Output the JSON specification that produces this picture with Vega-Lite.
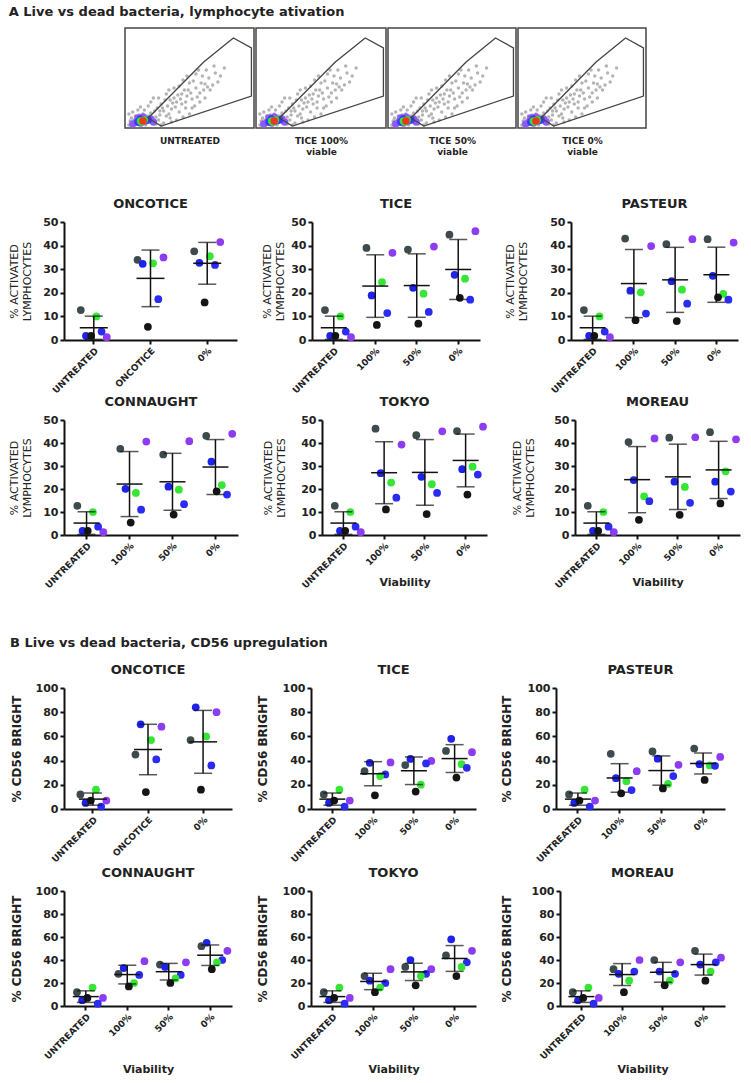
{
"$schema": "https://vega.github.io/schema/vega-lite/v6.json",
"padding": {"left": 8, "top": 6, "right": 5, "bottom": 3},
"background": "white",
"config": {
  "font": "DejaVu Sans",
  "view": {"stroke": null},
  "axis": {"labelFont": "DejaVu Sans", "labelFontWeight": "bold", "labelColor": "#222", "domainColor": "#111", "domainWidth": 2, "tickColor": "#111", "tickWidth": 2, "tickSize": 4, "grid": false, "titleFont": "DejaVu Sans", "titleFontWeight": "normal", "titleFontSize": 11, "titleColor": "#222"},
  "axisX": {"labelFontSize": 9},
  "axisY": {"labelFontSize": 11},
  "title": {"font": "DejaVu Sans", "fontSize": 13, "fontWeight": "bold", "color": "#222", "offset": 5}
},
"datasets": {
  "cloud": [
    {"x":3,"y":3},{"x":6,"y":5},{"x":9,"y":4},{"x":12,"y":7},{"x":15,"y":5},{"x":18,"y":9},{"x":21,"y":6},{"x":24,"y":11},{"x":8,"y":12},{"x":14,"y":14},{"x":20,"y":15},{"x":27,"y":13},{"x":30,"y":17},{"x":25,"y":20},{"x":33,"y":22},{"x":36,"y":19},{"x":40,"y":26},{"x":44,"y":24},{"x":38,"y":30},{"x":48,"y":32},{"x":52,"y":29},{"x":46,"y":38},{"x":55,"y":40},{"x":58,"y":35},{"x":62,"y":44},{"x":50,"y":45},{"x":65,"y":50},{"x":70,"y":55},{"x":60,"y":52},{"x":42,"y":16},{"x":35,"y":10},{"x":28,"y":24},{"x":18,"y":22},{"x":10,"y":18},{"x":5,"y":10},{"x":32,"y":34},{"x":22,"y":30},{"x":54,"y":22},{"x":66,"y":38},{"x":72,"y":46},{"x":45,"y":48},{"x":57,"y":58},{"x":3,"y":14},{"x":16,"y":3},{"x":30,"y":5},{"x":40,"y":8},{"x":50,"y":14},{"x":26,"y":8},{"x":34,"y":14},{"x":44,"y":34},{"x":38,"y":40},{"x":62,"y":30},{"x":7,"y":8},{"x":11,"y":13},{"x":19,"y":12},{"x":23,"y":17},{"x":29,"y":20},{"x":37,"y":25},{"x":41,"y":33},{"x":49,"y":38},{"x":53,"y":47},{"x":61,"y":38},{"x":68,"y":43},{"x":47,"y":20},{"x":31,"y":28},{"x":15,"y":18},
    {"x":4,"y":7},{"x":9,"y":9},{"x":13,"y":3},{"x":17,"y":12},{"x":21,"y":10},{"x":24,"y":4},{"x":27,"y":17},{"x":32,"y":12},{"x":35,"y":28},{"x":39,"y":21},{"x":43,"y":29},{"x":47,"y":26},{"x":51,"y":35},{"x":56,"y":31},{"x":59,"y":45},{"x":64,"y":41},{"x":6,"y":16},{"x":12,"y":21},{"x":20,"y":26},{"x":26,"y":30},{"x":34,"y":38},{"x":42,"y":42},{"x":48,"y":52},{"x":55,"y":54},{"x":63,"y":58},{"x":69,"y":62},{"x":74,"y":52},{"x":77,"y":60},{"x":58,"y":26},{"x":52,"y":20},{"x":45,"y":11},{"x":36,"y":6},{"x":28,"y":3}
  ],
  "gate": [
    {"x":18,"y":10,"o":1},{"x":61,"y":66,"o":2},{"x":84,"y":90,"o":3},{"x":98,"y":80,"o":4},{"x":98,"y":32,"o":5},{"x":28,"y":2,"o":6},{"x":18,"y":10,"o":7}
  ],
  "hot": [
    {"x":6,"y":4,"l":"a"},{"x":9,"y":6,"l":"a"},{"x":12,"y":5,"l":"a"},{"x":16,"y":7,"l":"a"},{"x":20,"y":9,"l":"a"},{"x":10,"y":10,"l":"a"},{"x":14,"y":11,"l":"a"},{"x":22,"y":6,"l":"a"},
    {"x":10,"y":6,"l":"b"},{"x":14,"y":7,"l":"b"},{"x":18,"y":8,"l":"b"},{"x":12,"y":9,"l":"b"},
    {"x":12,"y":7,"l":"c"},{"x":15,"y":8,"l":"c"},{"x":13,"y":6,"l":"c"},
    {"x":14,"y":7,"l":"d"}
  ],
  "a": [
    {"p":"ALL","c":"UNTREATED","d":"d1","v":12.7},{"p":"ALL","c":"UNTREATED","d":"gr","v":10},{"p":"ALL","c":"UNTREATED","d":"b1","v":1.8},{"p":"ALL","c":"UNTREATED","d":"pu","v":1.2},{"p":"ALL","c":"UNTREATED","d":"d2","v":1.8},{"p":"ALL","c":"UNTREATED","d":"b2","v":3.6},
    {"p":"ONCOTICE","c":"ONCOTICE","d":"d1","v":34},{"p":"ONCOTICE","c":"ONCOTICE","d":"b1","v":32.3},{"p":"ONCOTICE","c":"ONCOTICE","d":"gr","v":32.5},{"p":"ONCOTICE","c":"ONCOTICE","d":"pu","v":35},{"p":"ONCOTICE","c":"ONCOTICE","d":"b2","v":17.3},{"p":"ONCOTICE","c":"ONCOTICE","d":"d2","v":5.6},
    {"p":"ONCOTICE","c":"0%","d":"d1","v":37.6},{"p":"ONCOTICE","c":"0%","d":"pu","v":41.5},{"p":"ONCOTICE","c":"0%","d":"b1","v":32.7},{"p":"ONCOTICE","c":"0%","d":"b2","v":31.8},{"p":"ONCOTICE","c":"0%","d":"gr","v":35.5},{"p":"ONCOTICE","c":"0%","d":"d2","v":15.9},
    {"p":"TICE","c":"100%","d":"pu","v":36.9},{"p":"TICE","c":"100%","d":"d1","v":39},{"p":"TICE","c":"100%","d":"gr","v":24.5},{"p":"TICE","c":"100%","d":"b1","v":18.9},{"p":"TICE","c":"100%","d":"b2","v":11.4},{"p":"TICE","c":"100%","d":"d2","v":6.4},
    {"p":"TICE","c":"50%","d":"d1","v":38.3},{"p":"TICE","c":"50%","d":"pu","v":39.6},{"p":"TICE","c":"50%","d":"b1","v":22.1},{"p":"TICE","c":"50%","d":"gr","v":19.6},{"p":"TICE","c":"50%","d":"b2","v":11.9},{"p":"TICE","c":"50%","d":"d2","v":6.9},
    {"p":"TICE","c":"0%","d":"d1","v":44.6},{"p":"TICE","c":"0%","d":"pu","v":46.1},{"p":"TICE","c":"0%","d":"b1","v":27.6},{"p":"TICE","c":"0%","d":"gr","v":26},{"p":"TICE","c":"0%","d":"b2","v":17.1},{"p":"TICE","c":"0%","d":"d2","v":17.9},
    {"p":"PASTEUR","c":"100%","d":"pu","v":39.8},{"p":"PASTEUR","c":"100%","d":"d1","v":43},{"p":"PASTEUR","c":"100%","d":"b1","v":20.9},{"p":"PASTEUR","c":"100%","d":"gr","v":20.2},{"p":"PASTEUR","c":"100%","d":"b2","v":11.2},{"p":"PASTEUR","c":"100%","d":"d2","v":8.4},
    {"p":"PASTEUR","c":"50%","d":"pu","v":42.7},{"p":"PASTEUR","c":"50%","d":"d1","v":40.6},{"p":"PASTEUR","c":"50%","d":"b1","v":24.9},{"p":"PASTEUR","c":"50%","d":"gr","v":21.3},{"p":"PASTEUR","c":"50%","d":"b2","v":15.4},{"p":"PASTEUR","c":"50%","d":"d2","v":8},
    {"p":"PASTEUR","c":"0%","d":"pu","v":41.3},{"p":"PASTEUR","c":"0%","d":"d1","v":42.7},{"p":"PASTEUR","c":"0%","d":"b1","v":27.2},{"p":"PASTEUR","c":"0%","d":"gr","v":19.5},{"p":"PASTEUR","c":"0%","d":"b2","v":17.1},{"p":"PASTEUR","c":"0%","d":"d2","v":18.1},
    {"p":"CONNAUGHT","c":"100%","d":"pu","v":40.6},{"p":"CONNAUGHT","c":"100%","d":"d1","v":37.5},{"p":"CONNAUGHT","c":"100%","d":"b1","v":20.1},{"p":"CONNAUGHT","c":"100%","d":"gr","v":18.3},{"p":"CONNAUGHT","c":"100%","d":"b2","v":11},{"p":"CONNAUGHT","c":"100%","d":"d2","v":5.4},
    {"p":"CONNAUGHT","c":"50%","d":"pu","v":40.8},{"p":"CONNAUGHT","c":"50%","d":"d1","v":35},{"p":"CONNAUGHT","c":"50%","d":"b1","v":21},{"p":"CONNAUGHT","c":"50%","d":"gr","v":19.7},{"p":"CONNAUGHT","c":"50%","d":"b2","v":13.4},{"p":"CONNAUGHT","c":"50%","d":"d2","v":8.9},
    {"p":"CONNAUGHT","c":"0%","d":"d1","v":43.1},{"p":"CONNAUGHT","c":"0%","d":"pu","v":44},{"p":"CONNAUGHT","c":"0%","d":"b1","v":31.9},{"p":"CONNAUGHT","c":"0%","d":"gr","v":21.7},{"p":"CONNAUGHT","c":"0%","d":"b2","v":17.6},{"p":"CONNAUGHT","c":"0%","d":"d2","v":19},
    {"p":"TOKYO","c":"100%","d":"d1","v":46.2},{"p":"TOKYO","c":"100%","d":"pu","v":39.3},{"p":"TOKYO","c":"100%","d":"b1","v":26.9},{"p":"TOKYO","c":"100%","d":"gr","v":22.8},{"p":"TOKYO","c":"100%","d":"b2","v":16.2},{"p":"TOKYO","c":"100%","d":"d2","v":11.1},
    {"p":"TOKYO","c":"50%","d":"pu","v":45.1},{"p":"TOKYO","c":"50%","d":"d1","v":43.4},{"p":"TOKYO","c":"50%","d":"b1","v":25.3},{"p":"TOKYO","c":"50%","d":"gr","v":22.1},{"p":"TOKYO","c":"50%","d":"b2","v":18.3},{"p":"TOKYO","c":"50%","d":"d2","v":9.1},
    {"p":"TOKYO","c":"0%","d":"d1","v":45.2},{"p":"TOKYO","c":"0%","d":"pu","v":47.1},{"p":"TOKYO","c":"0%","d":"b1","v":28.6},{"p":"TOKYO","c":"0%","d":"gr","v":29.7},{"p":"TOKYO","c":"0%","d":"b2","v":26.3},{"p":"TOKYO","c":"0%","d":"d2","v":17.6},
    {"p":"MOREAU","c":"100%","d":"pu","v":42},{"p":"MOREAU","c":"100%","d":"d1","v":40.4},{"p":"MOREAU","c":"100%","d":"b1","v":23.9},{"p":"MOREAU","c":"100%","d":"gr","v":16.8},{"p":"MOREAU","c":"100%","d":"b2","v":14.7},{"p":"MOREAU","c":"100%","d":"d2","v":6.6},
    {"p":"MOREAU","c":"50%","d":"d1","v":42.3},{"p":"MOREAU","c":"50%","d":"pu","v":42.5},{"p":"MOREAU","c":"50%","d":"b1","v":23.2},{"p":"MOREAU","c":"50%","d":"gr","v":20.9},{"p":"MOREAU","c":"50%","d":"b2","v":14},{"p":"MOREAU","c":"50%","d":"d2","v":8.8},
    {"p":"MOREAU","c":"0%","d":"pu","v":41.6},{"p":"MOREAU","c":"0%","d":"d1","v":44.7},{"p":"MOREAU","c":"0%","d":"gr","v":27.7},{"p":"MOREAU","c":"0%","d":"b1","v":23.2},{"p":"MOREAU","c":"0%","d":"b2","v":18.9},{"p":"MOREAU","c":"0%","d":"d2","v":13.7}
  ],
  "b": [
    {"p":"ALL","c":"UNTREATED","d":"d1","v":12},{"p":"ALL","c":"UNTREATED","d":"gr","v":16},{"p":"ALL","c":"UNTREATED","d":"b1","v":5},{"p":"ALL","c":"UNTREATED","d":"pu","v":7},{"p":"ALL","c":"UNTREATED","d":"d2","v":7},{"p":"ALL","c":"UNTREATED","d":"b2","v":2},
    {"p":"ONCOTICE","c":"ONCOTICE","d":"b1","v":70},{"p":"ONCOTICE","c":"ONCOTICE","d":"pu","v":68},{"p":"ONCOTICE","c":"ONCOTICE","d":"gr","v":57},{"p":"ONCOTICE","c":"ONCOTICE","d":"d1","v":45},{"p":"ONCOTICE","c":"ONCOTICE","d":"b2","v":41},{"p":"ONCOTICE","c":"ONCOTICE","d":"d2","v":14},
    {"p":"ONCOTICE","c":"0%","d":"b1","v":84},{"p":"ONCOTICE","c":"0%","d":"pu","v":80},{"p":"ONCOTICE","c":"0%","d":"d1","v":57},{"p":"ONCOTICE","c":"0%","d":"gr","v":60},{"p":"ONCOTICE","c":"0%","d":"b2","v":36},{"p":"ONCOTICE","c":"0%","d":"d2","v":16},
    {"p":"TICE","c":"100%","d":"b1","v":38.2},{"p":"TICE","c":"100%","d":"pu","v":38.5},{"p":"TICE","c":"100%","d":"d1","v":31.2},{"p":"TICE","c":"100%","d":"b2","v":28.6},{"p":"TICE","c":"100%","d":"gr","v":27.2},{"p":"TICE","c":"100%","d":"d2","v":11.3},
    {"p":"TICE","c":"50%","d":"b1","v":41.4},{"p":"TICE","c":"50%","d":"pu","v":39.7},{"p":"TICE","c":"50%","d":"d1","v":36.3},{"p":"TICE","c":"50%","d":"b2","v":37.7},{"p":"TICE","c":"50%","d":"gr","v":20.1},{"p":"TICE","c":"50%","d":"d2","v":14.4},
    {"p":"TICE","c":"0%","d":"b1","v":58},{"p":"TICE","c":"0%","d":"d1","v":48},{"p":"TICE","c":"0%","d":"pu","v":47},{"p":"TICE","c":"0%","d":"gr","v":37},{"p":"TICE","c":"0%","d":"b2","v":34},{"p":"TICE","c":"0%","d":"d2","v":26},
    {"p":"PASTEUR","c":"100%","d":"d1","v":45.6},{"p":"PASTEUR","c":"100%","d":"pu","v":31.2},{"p":"PASTEUR","c":"100%","d":"b1","v":25.5},{"p":"PASTEUR","c":"100%","d":"gr","v":23},{"p":"PASTEUR","c":"100%","d":"b2","v":15.6},{"p":"PASTEUR","c":"100%","d":"d2","v":13},
    {"p":"PASTEUR","c":"50%","d":"d1","v":47.6},{"p":"PASTEUR","c":"50%","d":"b1","v":41.6},{"p":"PASTEUR","c":"50%","d":"pu","v":36.5},{"p":"PASTEUR","c":"50%","d":"b2","v":27.2},{"p":"PASTEUR","c":"50%","d":"gr","v":20.7},{"p":"PASTEUR","c":"50%","d":"d2","v":17},
    {"p":"PASTEUR","c":"0%","d":"d1","v":50},{"p":"PASTEUR","c":"0%","d":"pu","v":43},{"p":"PASTEUR","c":"0%","d":"b1","v":37},{"p":"PASTEUR","c":"0%","d":"gr","v":36},{"p":"PASTEUR","c":"0%","d":"b2","v":35.7},{"p":"PASTEUR","c":"0%","d":"d2","v":24},
    {"p":"CONNAUGHT","c":"100%","d":"pu","v":39},{"p":"CONNAUGHT","c":"100%","d":"b1","v":33},{"p":"CONNAUGHT","c":"100%","d":"d1","v":28},{"p":"CONNAUGHT","c":"100%","d":"b2","v":27},{"p":"CONNAUGHT","c":"100%","d":"gr","v":20},{"p":"CONNAUGHT","c":"100%","d":"d2","v":17},
    {"p":"CONNAUGHT","c":"50%","d":"pu","v":38},{"p":"CONNAUGHT","c":"50%","d":"d1","v":36},{"p":"CONNAUGHT","c":"50%","d":"b1","v":34},{"p":"CONNAUGHT","c":"50%","d":"b2","v":27},{"p":"CONNAUGHT","c":"50%","d":"gr","v":24},{"p":"CONNAUGHT","c":"50%","d":"d2","v":20},
    {"p":"CONNAUGHT","c":"0%","d":"b1","v":55},{"p":"CONNAUGHT","c":"0%","d":"d1","v":52},{"p":"CONNAUGHT","c":"0%","d":"pu","v":48},{"p":"CONNAUGHT","c":"0%","d":"b2","v":40},{"p":"CONNAUGHT","c":"0%","d":"gr","v":38},{"p":"CONNAUGHT","c":"0%","d":"d2","v":32},
    {"p":"TOKYO","c":"100%","d":"pu","v":32},{"p":"TOKYO","c":"100%","d":"d1","v":26},{"p":"TOKYO","c":"100%","d":"b1","v":22},{"p":"TOKYO","c":"100%","d":"b2","v":20},{"p":"TOKYO","c":"100%","d":"gr","v":16},{"p":"TOKYO","c":"100%","d":"d2","v":12},
    {"p":"TOKYO","c":"50%","d":"b1","v":40},{"p":"TOKYO","c":"50%","d":"d1","v":34},{"p":"TOKYO","c":"50%","d":"pu","v":32},{"p":"TOKYO","c":"50%","d":"b2","v":28},{"p":"TOKYO","c":"50%","d":"gr","v":26},{"p":"TOKYO","c":"50%","d":"d2","v":18},
    {"p":"TOKYO","c":"0%","d":"b1","v":58},{"p":"TOKYO","c":"0%","d":"pu","v":48},{"p":"TOKYO","c":"0%","d":"d1","v":44},{"p":"TOKYO","c":"0%","d":"b2","v":38},{"p":"TOKYO","c":"0%","d":"gr","v":34},{"p":"TOKYO","c":"0%","d":"d2","v":26},
    {"p":"MOREAU","c":"100%","d":"pu","v":40},{"p":"MOREAU","c":"100%","d":"d1","v":32},{"p":"MOREAU","c":"100%","d":"b2","v":30},{"p":"MOREAU","c":"100%","d":"b1","v":28},{"p":"MOREAU","c":"100%","d":"gr","v":22},{"p":"MOREAU","c":"100%","d":"d2","v":12},
    {"p":"MOREAU","c":"50%","d":"d1","v":40},{"p":"MOREAU","c":"50%","d":"pu","v":38},{"p":"MOREAU","c":"50%","d":"b1","v":30},{"p":"MOREAU","c":"50%","d":"b2","v":28},{"p":"MOREAU","c":"50%","d":"gr","v":22},{"p":"MOREAU","c":"50%","d":"d2","v":18},
    {"p":"MOREAU","c":"0%","d":"d1","v":48},{"p":"MOREAU","c":"0%","d":"pu","v":42},{"p":"MOREAU","c":"0%","d":"b2","v":38},{"p":"MOREAU","c":"0%","d":"b1","v":36},{"p":"MOREAU","c":"0%","d":"gr","v":30},{"p":"MOREAU","c":"0%","d":"d2","v":22}
  ],
  "sa": [
    {"p":"ONCOTICE","c":"ONCOTICE","s":"*"},{"p":"ONCOTICE","c":"0%","s":"**"},
    {"p":"TICE","c":"100%","s":"*"},{"p":"TICE","c":"50%","s":"*"},{"p":"TICE","c":"0%","s":"*"},
    {"p":"PASTEUR","c":"100%","s":"*"},{"p":"PASTEUR","c":"50%","s":"*"},{"p":"PASTEUR","c":"0%","s":"*"},
    {"p":"CONNAUGHT","c":"100%","s":"ns"},{"p":"CONNAUGHT","c":"50%","s":"*"},{"p":"CONNAUGHT","c":"0%","s":"*"},
    {"p":"TOKYO","c":"100%","s":"*"},{"p":"TOKYO","c":"50%","s":"*"},{"p":"TOKYO","c":"0%","s":"**"},
    {"p":"MOREAU","c":"100%","s":"ns"},{"p":"MOREAU","c":"50%","s":"*"},{"p":"MOREAU","c":"0%","s":"*"}
  ],
  "sb": [
    {"p":"ONCOTICE","c":"ONCOTICE","s":"**"},{"p":"ONCOTICE","c":"0%","s":"**"},
    {"p":"TICE","c":"100%","s":"*"},{"p":"TICE","c":"50%","s":"*"},{"p":"TICE","c":"0%","s":"**"},
    {"p":"PASTEUR","c":"100%","s":"*"},{"p":"PASTEUR","c":"50%","s":"*"},{"p":"PASTEUR","c":"0%","s":"**"},
    {"p":"CONNAUGHT","c":"100%","s":"*"},{"p":"CONNAUGHT","c":"50%","s":"*"},{"p":"CONNAUGHT","c":"0%","s":"**"},
    {"p":"TOKYO","c":"100%","s":"*"},{"p":"TOKYO","c":"50%","s":"*"},{"p":"TOKYO","c":"0%","s":"**"},
    {"p":"MOREAU","c":"100%","s":"*"},{"p":"MOREAU","c":"50%","s":"*"},{"p":"MOREAU","c":"0%","s":"**"}
  ]
},
"spacing": 47,
"vconcat": [
 {
  "title": {"text": "A  Live vs dead bacteria, lymphocyte ativation", "anchor": "start", "fontSize": 13, "offset": 8},
  "spacing": 1,
  "vconcat": [
   {"spacing": 0, "hconcat": [
     {"width": 60, "height": 169, "data": {"values": []}, "mark": "point"},
     {"width": 129, "height": 100, "view": {"stroke": "#444", "strokeWidth": 1.5},
      "layer": [
       {"data": {"name": "cloud"}, "mark": {"type": "point", "filled": true, "size": 12, "color": "#777", "opacity": 0.55},
        "encoding": {"x": {"field": "x", "type": "quantitative", "scale": {"domain": [0, 100], "nice": false}, "axis": {"labels": false, "ticks": false, "domain": false, "title": "UNTREATED", "titleFontSize": 9, "titleFontWeight": "bold", "titlePadding": 8}}, "y": {"field": "y", "type": "quantitative", "scale": {"domain": [0, 100], "nice": false}, "axis": null}}},
       {"data": {"name": "hot"}, "mark": {"type": "point", "filled": true, "size": 55, "opacity": 1, "strokeWidth": 0},
        "encoding": {"x": {"field": "x", "type": "quantitative"}, "y": {"field": "y", "type": "quantitative"}, "fill": {"field": "l", "type": "nominal", "scale": {"domain": ["a","b","c","d"], "range": ["#8a5cf5","#3a3af0","#38e038","#e83a1a"]}, "legend": null}}},
       {"data": {"name": "gate"}, "mark": {"type": "line", "color": "#444", "strokeWidth": 1.3},
        "encoding": {"x": {"field": "x", "type": "quantitative"}, "y": {"field": "y", "type": "quantitative"}, "order": {"field": "o"}}}
      ]},
     {"width": 130, "height": 100, "view": {"stroke": "#444", "strokeWidth": 1.5},
      "layer": [
       {"data": {"name": "cloud"}, "mark": {"type": "point", "filled": true, "size": 12, "color": "#777", "opacity": 0.55},
        "encoding": {"x": {"field": "x", "type": "quantitative", "scale": {"domain": [0, 100], "nice": false}, "axis": {"labels": false, "ticks": false, "domain": false, "title": ["TICE 100%", "viable"], "titleFontSize": 9, "titleFontWeight": "bold", "titlePadding": 8}}, "y": {"field": "y", "type": "quantitative", "scale": {"domain": [0, 100], "nice": false}, "axis": null}}},
       {"data": {"name": "hot"}, "mark": {"type": "point", "filled": true, "size": 55, "opacity": 1, "strokeWidth": 0},
        "encoding": {"x": {"field": "x", "type": "quantitative"}, "y": {"field": "y", "type": "quantitative"}, "fill": {"field": "l", "type": "nominal", "scale": {"domain": ["a","b","c","d"], "range": ["#8a5cf5","#3a3af0","#38e038","#e83a1a"]}, "legend": null}}},
       {"data": {"name": "gate"}, "mark": {"type": "line", "color": "#444", "strokeWidth": 1.3},
        "encoding": {"x": {"field": "x", "type": "quantitative"}, "y": {"field": "y", "type": "quantitative"}, "order": {"field": "o"}}}
      ]},
     {"width": 128, "height": 100, "view": {"stroke": "#444", "strokeWidth": 1.5},
      "layer": [
       {"data": {"name": "cloud"}, "mark": {"type": "point", "filled": true, "size": 12, "color": "#777", "opacity": 0.55},
        "encoding": {"x": {"field": "x", "type": "quantitative", "scale": {"domain": [0, 100], "nice": false}, "axis": {"labels": false, "ticks": false, "domain": false, "title": ["TICE 50%", "viable"], "titleFontSize": 9, "titleFontWeight": "bold", "titlePadding": 8}}, "y": {"field": "y", "type": "quantitative", "scale": {"domain": [0, 100], "nice": false}, "axis": null}}},
       {"data": {"name": "hot"}, "mark": {"type": "point", "filled": true, "size": 55, "opacity": 1, "strokeWidth": 0},
        "encoding": {"x": {"field": "x", "type": "quantitative"}, "y": {"field": "y", "type": "quantitative"}, "fill": {"field": "l", "type": "nominal", "scale": {"domain": ["a","b","c","d"], "range": ["#8a5cf5","#3a3af0","#38e038","#e83a1a"]}, "legend": null}}},
       {"data": {"name": "gate"}, "mark": {"type": "line", "color": "#444", "strokeWidth": 1.3},
        "encoding": {"x": {"field": "x", "type": "quantitative"}, "y": {"field": "y", "type": "quantitative"}, "order": {"field": "o"}}}
      ]},
     {"width": 128, "height": 100, "view": {"stroke": "#444", "strokeWidth": 1.5},
      "layer": [
       {"data": {"name": "cloud"}, "mark": {"type": "point", "filled": true, "size": 12, "color": "#777", "opacity": 0.55},
        "encoding": {"x": {"field": "x", "type": "quantitative", "scale": {"domain": [0, 100], "nice": false}, "axis": {"labels": false, "ticks": false, "domain": false, "title": ["TICE 0%", "viable"], "titleFontSize": 9, "titleFontWeight": "bold", "titlePadding": 8}}, "y": {"field": "y", "type": "quantitative", "scale": {"domain": [0, 100], "nice": false}, "axis": null}}},
       {"data": {"name": "hot"}, "mark": {"type": "point", "filled": true, "size": 55, "opacity": 1, "strokeWidth": 0},
        "encoding": {"x": {"field": "x", "type": "quantitative"}, "y": {"field": "y", "type": "quantitative"}, "fill": {"field": "l", "type": "nominal", "scale": {"domain": ["a","b","c","d"], "range": ["#8a5cf5","#3a3af0","#38e038","#e83a1a"]}, "legend": null}}},
       {"data": {"name": "gate"}, "mark": {"type": "line", "color": "#444", "strokeWidth": 1.3},
        "encoding": {"x": {"field": "x", "type": "quantitative"}, "y": {"field": "y", "type": "quantitative"}, "order": {"field": "o"}}}
      ]}
   ]},
   {"spacing": 24, "hconcat": [
     {"width": 173, "height": 118, "title": "ONCOTICE", "data": {"name": "a"}, "transform": [{"filter": "datum.p == 'ONCOTICE' || datum.p == 'ALL'"}],
      "encoding": {"x": {"field": "c", "type": "nominal", "title": null, "scale": {"domain": ["UNTREATED","ONCOTICE","0%"], "paddingInner": 0.45, "paddingOuter": 0.25}, "axis": {"labelAngle": -45}},
        "y": {"field": "v", "type": "quantitative", "title": ["% ACTIVATED", "LYMPHOCYTES"], "scale": {"domain": [0, 50], "nice": false}, "axis": {"values": [0,10,20,30,40,50], "titlePadding": 10}}},
      "layer": [
       {"mark": {"type": "point", "filled": true, "size": 60, "opacity": 1}, "encoding": {"xOffset": {"field": "d", "type": "nominal", "scale": {"domain": ["d1","b1","d2","gr","b2","pu"]}}, "color": {"field": "d", "type": "nominal", "scale": {"domain": ["d1","b1","d2","gr","b2","pu"], "range": ["#3d4b4f","#1f22e8","#151515","#35e635","#2b2bf2","#8c3cf2"]}, "legend": null}}},
       {"mark": {"type": "errorbar", "extent": "stdev", "ticks": true, "size": 18, "thickness": 1.5, "color": "#111"}},
       {"mark": {"type": "tick", "thickness": 1.5, "size": 28, "color": "#111"}, "encoding": {"y": {"aggregate": "mean", "field": "v", "type": "quantitative", "title": ["% ACTIVATED", "LYMPHOCYTES"], "axis": {"values": [0,10,20,30,40,50], "titlePadding": 10}}}},
       {"data": {"name": "sa"}, "transform": [{"filter": "datum.p == 'ONCOTICE'"}], "mark": {"type": "text", "fontSize": 11, "fontWeight": "bold", "color": "#222"}, "encoding": {"y": {"datum": 49, "type": "quantitative", "title": ["% ACTIVATED", "LYMPHOCYTES"], "axis": {"values": [0,10,20,30,40,50], "titlePadding": 10}}, "text": {"field": "s"}}}
      ]},
     {"width": 168, "height": 118, "title": "TICE", "data": {"name": "a"}, "transform": [{"filter": "datum.p == 'TICE' || datum.p == 'ALL'"}],
      "encoding": {"x": {"field": "c", "type": "nominal", "title": null, "scale": {"domain": ["UNTREATED","100%","50%","0%"], "paddingInner": 0.45, "paddingOuter": 0.25}, "axis": {"labelAngle": -45}},
        "y": {"field": "v", "type": "quantitative", "title": ["% ACTIVATED", "LYMPHOCYTES"], "scale": {"domain": [0, 50], "nice": false}, "axis": {"values": [0,10,20,30,40,50], "titlePadding": 5}}},
      "layer": [
       {"mark": {"type": "point", "filled": true, "size": 60, "opacity": 1}, "encoding": {"xOffset": {"field": "d", "type": "nominal", "scale": {"domain": ["d1","b1","d2","gr","b2","pu"]}}, "color": {"field": "d", "type": "nominal", "scale": {"domain": ["d1","b1","d2","gr","b2","pu"], "range": ["#3d4b4f","#1f22e8","#151515","#35e635","#2b2bf2","#8c3cf2"]}, "legend": null}}},
       {"mark": {"type": "errorbar", "extent": "stdev", "ticks": true, "size": 18, "thickness": 1.5, "color": "#111"}},
       {"mark": {"type": "tick", "thickness": 1.5, "size": 26, "color": "#111"}, "encoding": {"y": {"aggregate": "mean", "field": "v", "type": "quantitative", "title": ["% ACTIVATED", "LYMPHOCYTES"], "axis": {"values": [0,10,20,30,40,50], "titlePadding": 5}}}},
       {"data": {"name": "sa"}, "transform": [{"filter": "datum.p == 'TICE'"}], "mark": {"type": "text", "fontSize": 11, "fontWeight": "bold", "color": "#222"}, "encoding": {"y": {"datum": 49, "type": "quantitative", "title": ["% ACTIVATED", "LYMPHOCYTES"], "axis": {"values": [0,10,20,30,40,50], "titlePadding": 5}}, "text": {"field": "s"}}}
      ]},
     {"width": 167, "height": 118, "title": "PASTEUR", "data": {"name": "a"}, "transform": [{"filter": "datum.p == 'PASTEUR' || datum.p == 'ALL'"}],
      "encoding": {"x": {"field": "c", "type": "nominal", "title": null, "scale": {"domain": ["UNTREATED","100%","50%","0%"], "paddingInner": 0.45, "paddingOuter": 0.25}, "axis": {"labelAngle": -45}},
        "y": {"field": "v", "type": "quantitative", "title": ["% ACTIVATED", "LYMPHOCYTES"], "scale": {"domain": [0, 50], "nice": false}, "axis": {"values": [0,10,20,30,40,50], "titlePadding": 21}}},
      "layer": [
       {"mark": {"type": "point", "filled": true, "size": 60, "opacity": 1}, "encoding": {"xOffset": {"field": "d", "type": "nominal", "scale": {"domain": ["d1","b1","d2","gr","b2","pu"]}}, "color": {"field": "d", "type": "nominal", "scale": {"domain": ["d1","b1","d2","gr","b2","pu"], "range": ["#3d4b4f","#1f22e8","#151515","#35e635","#2b2bf2","#8c3cf2"]}, "legend": null}}},
       {"mark": {"type": "errorbar", "extent": "stdev", "ticks": true, "size": 18, "thickness": 1.5, "color": "#111"}},
       {"mark": {"type": "tick", "thickness": 1.5, "size": 26, "color": "#111"}, "encoding": {"y": {"aggregate": "mean", "field": "v", "type": "quantitative", "title": ["% ACTIVATED", "LYMPHOCYTES"], "axis": {"values": [0,10,20,30,40,50], "titlePadding": 21}}}},
       {"data": {"name": "sa"}, "transform": [{"filter": "datum.p == 'PASTEUR'"}], "mark": {"type": "text", "fontSize": 11, "fontWeight": "bold", "color": "#222"}, "encoding": {"y": {"datum": 49, "type": "quantitative", "title": ["% ACTIVATED", "LYMPHOCYTES"], "axis": {"values": [0,10,20,30,40,50], "titlePadding": 21}}, "text": {"field": "s"}}}
      ]}
   ]},
   {"spacing": 24, "hconcat": [
     {"width": 174, "height": 115, "title": "CONNAUGHT", "data": {"name": "a"}, "transform": [{"filter": "datum.p == 'CONNAUGHT' || datum.p == 'ALL'"}],
      "encoding": {"x": {"field": "c", "type": "nominal", "title": null, "scale": {"domain": ["UNTREATED","100%","50%","0%"], "paddingInner": 0.45, "paddingOuter": 0.25}, "axis": {"labelAngle": -45}},
        "y": {"field": "v", "type": "quantitative", "title": ["% ACTIVATED", "LYMPHOCYTES"], "scale": {"domain": [0, 50], "nice": false}, "axis": {"values": [0,10,20,30,40,50], "titlePadding": 10}}},
      "layer": [
       {"mark": {"type": "point", "filled": true, "size": 60, "opacity": 1}, "encoding": {"xOffset": {"field": "d", "type": "nominal", "scale": {"domain": ["d1","b1","d2","gr","b2","pu"]}}, "color": {"field": "d", "type": "nominal", "scale": {"domain": ["d1","b1","d2","gr","b2","pu"], "range": ["#3d4b4f","#1f22e8","#151515","#35e635","#2b2bf2","#8c3cf2"]}, "legend": null}}},
       {"mark": {"type": "errorbar", "extent": "stdev", "ticks": true, "size": 18, "thickness": 1.5, "color": "#111"}},
       {"mark": {"type": "tick", "thickness": 1.5, "size": 26, "color": "#111"}, "encoding": {"y": {"aggregate": "mean", "field": "v", "type": "quantitative", "title": ["% ACTIVATED", "LYMPHOCYTES"], "axis": {"values": [0,10,20,30,40,50], "titlePadding": 10}}}},
       {"data": {"name": "sa"}, "transform": [{"filter": "datum.p == 'CONNAUGHT'"}], "mark": {"type": "text", "fontSize": 11, "fontWeight": "bold", "color": "#222"}, "encoding": {"y": {"datum": 49, "type": "quantitative", "title": ["% ACTIVATED", "LYMPHOCYTES"], "axis": {"values": [0,10,20,30,40,50], "titlePadding": 10}}, "text": {"field": "s"}}}
      ]},
     {"width": 165, "height": 115, "title": "TOKYO", "data": {"name": "a"}, "transform": [{"filter": "datum.p == 'TOKYO' || datum.p == 'ALL'"}],
      "encoding": {"x": {"field": "c", "type": "nominal", "title": "Viability", "scale": {"domain": ["UNTREATED","100%","50%","0%"], "paddingInner": 0.45, "paddingOuter": 0.25}, "axis": {"labelAngle": -45, "titleFontWeight": "bold", "titleFontSize": 11, "titleY": 41, "titleBaseline": "top"}},
        "y": {"field": "v", "type": "quantitative", "title": ["% ACTIVATED", "LYMPHOCYTES"], "scale": {"domain": [0, 50], "nice": false}, "axis": {"values": [0,10,20,30,40,50], "titlePadding": 14}}},
      "layer": [
       {"mark": {"type": "point", "filled": true, "size": 60, "opacity": 1}, "encoding": {"xOffset": {"field": "d", "type": "nominal", "scale": {"domain": ["d1","b1","d2","gr","b2","pu"]}}, "color": {"field": "d", "type": "nominal", "scale": {"domain": ["d1","b1","d2","gr","b2","pu"], "range": ["#3d4b4f","#1f22e8","#151515","#35e635","#2b2bf2","#8c3cf2"]}, "legend": null}}},
       {"mark": {"type": "errorbar", "extent": "stdev", "ticks": true, "size": 18, "thickness": 1.5, "color": "#111"}},
       {"mark": {"type": "tick", "thickness": 1.5, "size": 26, "color": "#111"}, "encoding": {"y": {"aggregate": "mean", "field": "v", "type": "quantitative", "title": ["% ACTIVATED", "LYMPHOCYTES"], "axis": {"values": [0,10,20,30,40,50], "titlePadding": 14}}}},
       {"data": {"name": "sa"}, "transform": [{"filter": "datum.p == 'TOKYO'"}], "mark": {"type": "text", "fontSize": 11, "fontWeight": "bold", "color": "#222"}, "encoding": {"y": {"datum": 49, "type": "quantitative", "title": ["% ACTIVATED", "LYMPHOCYTES"], "axis": {"values": [0,10,20,30,40,50], "titlePadding": 14}}, "text": {"field": "s"}}}
      ]},
     {"width": 165, "height": 115, "title": "MOREAU", "data": {"name": "a"}, "transform": [{"filter": "datum.p == 'MOREAU' || datum.p == 'ALL'"}],
      "encoding": {"x": {"field": "c", "type": "nominal", "title": "Viability", "scale": {"domain": ["UNTREATED","100%","50%","0%"], "paddingInner": 0.45, "paddingOuter": 0.25}, "axis": {"labelAngle": -45, "titleFontWeight": "bold", "titleFontSize": 11, "titleY": 41, "titleBaseline": "top"}},
        "y": {"field": "v", "type": "quantitative", "title": ["% ACTIVATED", "LYMPHOCYTES"], "scale": {"domain": [0, 50], "nice": false}, "axis": {"values": [0,10,20,30,40,50], "titlePadding": 18}}},
      "layer": [
       {"mark": {"type": "point", "filled": true, "size": 60, "opacity": 1}, "encoding": {"xOffset": {"field": "d", "type": "nominal", "scale": {"domain": ["d1","b1","d2","gr","b2","pu"]}}, "color": {"field": "d", "type": "nominal", "scale": {"domain": ["d1","b1","d2","gr","b2","pu"], "range": ["#3d4b4f","#1f22e8","#151515","#35e635","#2b2bf2","#8c3cf2"]}, "legend": null}}},
       {"mark": {"type": "errorbar", "extent": "stdev", "ticks": true, "size": 18, "thickness": 1.5, "color": "#111"}},
       {"mark": {"type": "tick", "thickness": 1.5, "size": 26, "color": "#111"}, "encoding": {"y": {"aggregate": "mean", "field": "v", "type": "quantitative", "title": ["% ACTIVATED", "LYMPHOCYTES"], "axis": {"values": [0,10,20,30,40,50], "titlePadding": 18}}}},
       {"data": {"name": "sa"}, "transform": [{"filter": "datum.p == 'MOREAU'"}], "mark": {"type": "text", "fontSize": 11, "fontWeight": "bold", "color": "#222"}, "encoding": {"y": {"datum": 49, "type": "quantitative", "title": ["% ACTIVATED", "LYMPHOCYTES"], "axis": {"values": [0,10,20,30,40,50], "titlePadding": 18}}, "text": {"field": "s"}}}
      ]}
   ]}
  ]
 },
 {
  "title": {"text": "B  Live vs dead bacteria, CD56 upregulation", "anchor": "start", "fontSize": 13, "offset": 14},
  "spacing": 3,
  "vconcat": [
   {"spacing": 24, "hconcat": [
     {"width": 168, "height": 121, "title": "ONCOTICE", "data": {"name": "b"}, "transform": [{"filter": "datum.p == 'ONCOTICE' || datum.p == 'ALL'"}],
      "encoding": {"x": {"field": "c", "type": "nominal", "title": null, "scale": {"domain": ["UNTREATED","ONCOTICE","0%"], "paddingInner": 0.45, "paddingOuter": 0.25}, "axis": {"labelAngle": -45}},
        "y": {"field": "v", "type": "quantitative", "title": "% CD56 BRIGHT", "scale": {"domain": [0, 100], "nice": false}, "axis": {"values": [0,20,40,60,80,100], "titleFontWeight": "bold", "titleFontSize": 12, "titlePadding": 12}}},
      "layer": [
       {"mark": {"type": "point", "filled": true, "size": 60, "opacity": 1}, "encoding": {"xOffset": {"field": "d", "type": "nominal", "scale": {"domain": ["d1","b1","d2","gr","b2","pu"]}}, "color": {"field": "d", "type": "nominal", "scale": {"domain": ["d1","b1","d2","gr","b2","pu"], "range": ["#3d4b4f","#1f22e8","#151515","#35e635","#2b2bf2","#8c3cf2"]}, "legend": null}}},
       {"mark": {"type": "errorbar", "extent": "stdev", "ticks": true, "size": 18, "thickness": 1.5, "color": "#111"}},
       {"mark": {"type": "tick", "thickness": 1.5, "size": 28, "color": "#111"}, "encoding": {"y": {"aggregate": "mean", "field": "v", "type": "quantitative", "title": "% CD56 BRIGHT", "axis": {"values": [0,20,40,60,80,100], "titleFontWeight": "bold", "titleFontSize": 12, "titlePadding": 12}}}},
       {"data": {"name": "sb"}, "transform": [{"filter": "datum.p == 'ONCOTICE'"}], "mark": {"type": "text", "fontSize": 11, "fontWeight": "bold", "color": "#222"}, "encoding": {"y": {"datum": 92, "type": "quantitative", "title": "% CD56 BRIGHT", "axis": {"values": [0,20,40,60,80,100], "titleFontWeight": "bold", "titleFontSize": 12, "titlePadding": 12}}, "text": {"field": "s"}}}
      ]},
     {"width": 165, "height": 121, "title": "TICE", "data": {"name": "b"}, "transform": [{"filter": "datum.p == 'TICE' || datum.p == 'ALL'"}],
      "encoding": {"x": {"field": "c", "type": "nominal", "title": null, "scale": {"domain": ["UNTREATED","100%","50%","0%"], "paddingInner": 0.45, "paddingOuter": 0.25}, "axis": {"labelAngle": -45}},
        "y": {"field": "v", "type": "quantitative", "title": "% CD56 BRIGHT", "scale": {"domain": [0, 100], "nice": false}, "axis": {"values": [0,20,40,60,80,100], "titleFontWeight": "bold", "titleFontSize": 12, "titlePadding": 13}}},
      "layer": [
       {"mark": {"type": "point", "filled": true, "size": 60, "opacity": 1}, "encoding": {"xOffset": {"field": "d", "type": "nominal", "scale": {"domain": ["d1","b1","d2","gr","b2","pu"]}}, "color": {"field": "d", "type": "nominal", "scale": {"domain": ["d1","b1","d2","gr","b2","pu"], "range": ["#3d4b4f","#1f22e8","#151515","#35e635","#2b2bf2","#8c3cf2"]}, "legend": null}}},
       {"mark": {"type": "errorbar", "extent": "stdev", "ticks": true, "size": 18, "thickness": 1.5, "color": "#111"}},
       {"mark": {"type": "tick", "thickness": 1.5, "size": 26, "color": "#111"}, "encoding": {"y": {"aggregate": "mean", "field": "v", "type": "quantitative", "title": "% CD56 BRIGHT", "axis": {"values": [0,20,40,60,80,100], "titleFontWeight": "bold", "titleFontSize": 12, "titlePadding": 13}}}},
       {"data": {"name": "sb"}, "transform": [{"filter": "datum.p == 'TICE'"}], "mark": {"type": "text", "fontSize": 11, "fontWeight": "bold", "color": "#222"}, "encoding": {"y": {"datum": 92, "type": "quantitative", "title": "% CD56 BRIGHT", "axis": {"values": [0,20,40,60,80,100], "titleFontWeight": "bold", "titleFontSize": 12, "titlePadding": 13}}, "text": {"field": "s"}}}
      ]},
     {"width": 169, "height": 121, "title": "PASTEUR", "data": {"name": "b"}, "transform": [{"filter": "datum.p == 'PASTEUR' || datum.p == 'ALL'"}],
      "encoding": {"x": {"field": "c", "type": "nominal", "title": null, "scale": {"domain": ["UNTREATED","100%","50%","0%"], "paddingInner": 0.45, "paddingOuter": 0.25}, "axis": {"labelAngle": -45}},
        "y": {"field": "v", "type": "quantitative", "title": "% CD56 BRIGHT", "scale": {"domain": [0, 100], "nice": false}, "axis": {"values": [0,20,40,60,80,100], "titleFontWeight": "bold", "titleFontSize": 12, "titlePadding": 14}}},
      "layer": [
       {"mark": {"type": "point", "filled": true, "size": 60, "opacity": 1}, "encoding": {"xOffset": {"field": "d", "type": "nominal", "scale": {"domain": ["d1","b1","d2","gr","b2","pu"]}}, "color": {"field": "d", "type": "nominal", "scale": {"domain": ["d1","b1","d2","gr","b2","pu"], "range": ["#3d4b4f","#1f22e8","#151515","#35e635","#2b2bf2","#8c3cf2"]}, "legend": null}}},
       {"mark": {"type": "errorbar", "extent": "stdev", "ticks": true, "size": 18, "thickness": 1.5, "color": "#111"}},
       {"mark": {"type": "tick", "thickness": 1.5, "size": 26, "color": "#111"}, "encoding": {"y": {"aggregate": "mean", "field": "v", "type": "quantitative", "title": "% CD56 BRIGHT", "axis": {"values": [0,20,40,60,80,100], "titleFontWeight": "bold", "titleFontSize": 12, "titlePadding": 14}}}},
       {"data": {"name": "sb"}, "transform": [{"filter": "datum.p == 'PASTEUR'"}], "mark": {"type": "text", "fontSize": 11, "fontWeight": "bold", "color": "#222"}, "encoding": {"y": {"datum": 92, "type": "quantitative", "title": "% CD56 BRIGHT", "axis": {"values": [0,20,40,60,80,100], "titleFontWeight": "bold", "titleFontSize": 12, "titlePadding": 14}}, "text": {"field": "s"}}}
      ]}
   ]},
   {"spacing": 24, "hconcat": [
     {"width": 168, "height": 115, "title": "CONNAUGHT", "data": {"name": "b"}, "transform": [{"filter": "datum.p == 'CONNAUGHT' || datum.p == 'ALL'"}],
      "encoding": {"x": {"field": "c", "type": "nominal", "title": "Viability", "scale": {"domain": ["UNTREATED","100%","50%","0%"], "paddingInner": 0.45, "paddingOuter": 0.25}, "axis": {"labelAngle": -45, "titleFontWeight": "bold", "titleY": 57, "titleBaseline": "top"}},
        "y": {"field": "v", "type": "quantitative", "title": "% CD56 BRIGHT", "scale": {"domain": [0, 100], "nice": false}, "axis": {"values": [0,20,40,60,80,100], "titleFontWeight": "bold", "titleFontSize": 12, "titlePadding": 12}}},
      "layer": [
       {"mark": {"type": "point", "filled": true, "size": 60, "opacity": 1}, "encoding": {"xOffset": {"field": "d", "type": "nominal", "scale": {"domain": ["d1","b1","d2","gr","b2","pu"]}}, "color": {"field": "d", "type": "nominal", "scale": {"domain": ["d1","b1","d2","gr","b2","pu"], "range": ["#3d4b4f","#1f22e8","#151515","#35e635","#2b2bf2","#8c3cf2"]}, "legend": null}}},
       {"mark": {"type": "errorbar", "extent": "stdev", "ticks": true, "size": 18, "thickness": 1.5, "color": "#111"}},
       {"mark": {"type": "tick", "thickness": 1.5, "size": 26, "color": "#111"}, "encoding": {"y": {"aggregate": "mean", "field": "v", "type": "quantitative", "title": "% CD56 BRIGHT", "axis": {"values": [0,20,40,60,80,100], "titleFontWeight": "bold", "titleFontSize": 12, "titlePadding": 12}}}},
       {"data": {"name": "sb"}, "transform": [{"filter": "datum.p == 'CONNAUGHT'"}], "mark": {"type": "text", "fontSize": 11, "fontWeight": "bold", "color": "#222"}, "encoding": {"y": {"datum": 92, "type": "quantitative", "title": "% CD56 BRIGHT", "axis": {"values": [0,20,40,60,80,100], "titleFontWeight": "bold", "titleFontSize": 12, "titlePadding": 12}}, "text": {"field": "s"}}}
      ]},
     {"width": 165, "height": 115, "title": "TOKYO", "data": {"name": "b"}, "transform": [{"filter": "datum.p == 'TOKYO' || datum.p == 'ALL'"}],
      "encoding": {"x": {"field": "c", "type": "nominal", "title": "Viability", "scale": {"domain": ["UNTREATED","100%","50%","0%"], "paddingInner": 0.45, "paddingOuter": 0.25}, "axis": {"labelAngle": -45, "titleFontWeight": "bold", "titleY": 57, "titleBaseline": "top"}},
        "y": {"field": "v", "type": "quantitative", "title": "% CD56 BRIGHT", "scale": {"domain": [0, 100], "nice": false}, "axis": {"values": [0,20,40,60,80,100], "titleFontWeight": "bold", "titleFontSize": 12, "titlePadding": 13}}},
      "layer": [
       {"mark": {"type": "point", "filled": true, "size": 60, "opacity": 1}, "encoding": {"xOffset": {"field": "d", "type": "nominal", "scale": {"domain": ["d1","b1","d2","gr","b2","pu"]}}, "color": {"field": "d", "type": "nominal", "scale": {"domain": ["d1","b1","d2","gr","b2","pu"], "range": ["#3d4b4f","#1f22e8","#151515","#35e635","#2b2bf2","#8c3cf2"]}, "legend": null}}},
       {"mark": {"type": "errorbar", "extent": "stdev", "ticks": true, "size": 18, "thickness": 1.5, "color": "#111"}},
       {"mark": {"type": "tick", "thickness": 1.5, "size": 26, "color": "#111"}, "encoding": {"y": {"aggregate": "mean", "field": "v", "type": "quantitative", "title": "% CD56 BRIGHT", "axis": {"values": [0,20,40,60,80,100], "titleFontWeight": "bold", "titleFontSize": 12, "titlePadding": 13}}}},
       {"data": {"name": "sb"}, "transform": [{"filter": "datum.p == 'TOKYO'"}], "mark": {"type": "text", "fontSize": 11, "fontWeight": "bold", "color": "#222"}, "encoding": {"y": {"datum": 92, "type": "quantitative", "title": "% CD56 BRIGHT", "axis": {"values": [0,20,40,60,80,100], "titleFontWeight": "bold", "titleFontSize": 12, "titlePadding": 13}}, "text": {"field": "s"}}}
      ]},
     {"width": 165, "height": 115, "title": "MOREAU", "data": {"name": "b"}, "transform": [{"filter": "datum.p == 'MOREAU' || datum.p == 'ALL'"}],
      "encoding": {"x": {"field": "c", "type": "nominal", "title": "Viability", "scale": {"domain": ["UNTREATED","100%","50%","0%"], "paddingInner": 0.45, "paddingOuter": 0.25}, "axis": {"labelAngle": -45, "titleFontWeight": "bold", "titleY": 57, "titleBaseline": "top"}},
        "y": {"field": "v", "type": "quantitative", "title": "% CD56 BRIGHT", "scale": {"domain": [0, 100], "nice": false}, "axis": {"values": [0,20,40,60,80,100], "titleFontWeight": "bold", "titleFontSize": 12, "titlePadding": 18}}},
      "layer": [
       {"mark": {"type": "point", "filled": true, "size": 60, "opacity": 1}, "encoding": {"xOffset": {"field": "d", "type": "nominal", "scale": {"domain": ["d1","b1","d2","gr","b2","pu"]}}, "color": {"field": "d", "type": "nominal", "scale": {"domain": ["d1","b1","d2","gr","b2","pu"], "range": ["#3d4b4f","#1f22e8","#151515","#35e635","#2b2bf2","#8c3cf2"]}, "legend": null}}},
       {"mark": {"type": "errorbar", "extent": "stdev", "ticks": true, "size": 18, "thickness": 1.5, "color": "#111"}},
       {"mark": {"type": "tick", "thickness": 1.5, "size": 26, "color": "#111"}, "encoding": {"y": {"aggregate": "mean", "field": "v", "type": "quantitative", "title": "% CD56 BRIGHT", "axis": {"values": [0,20,40,60,80,100], "titleFontWeight": "bold", "titleFontSize": 12, "titlePadding": 18}}}},
       {"data": {"name": "sb"}, "transform": [{"filter": "datum.p == 'MOREAU'"}], "mark": {"type": "text", "fontSize": 11, "fontWeight": "bold", "color": "#222"}, "encoding": {"y": {"datum": 92, "type": "quantitative", "title": "% CD56 BRIGHT", "axis": {"values": [0,20,40,60,80,100], "titleFontWeight": "bold", "titleFontSize": 12, "titlePadding": 18}}, "text": {"field": "s"}}}
      ]}
   ]}
  ]
 }
]
}
